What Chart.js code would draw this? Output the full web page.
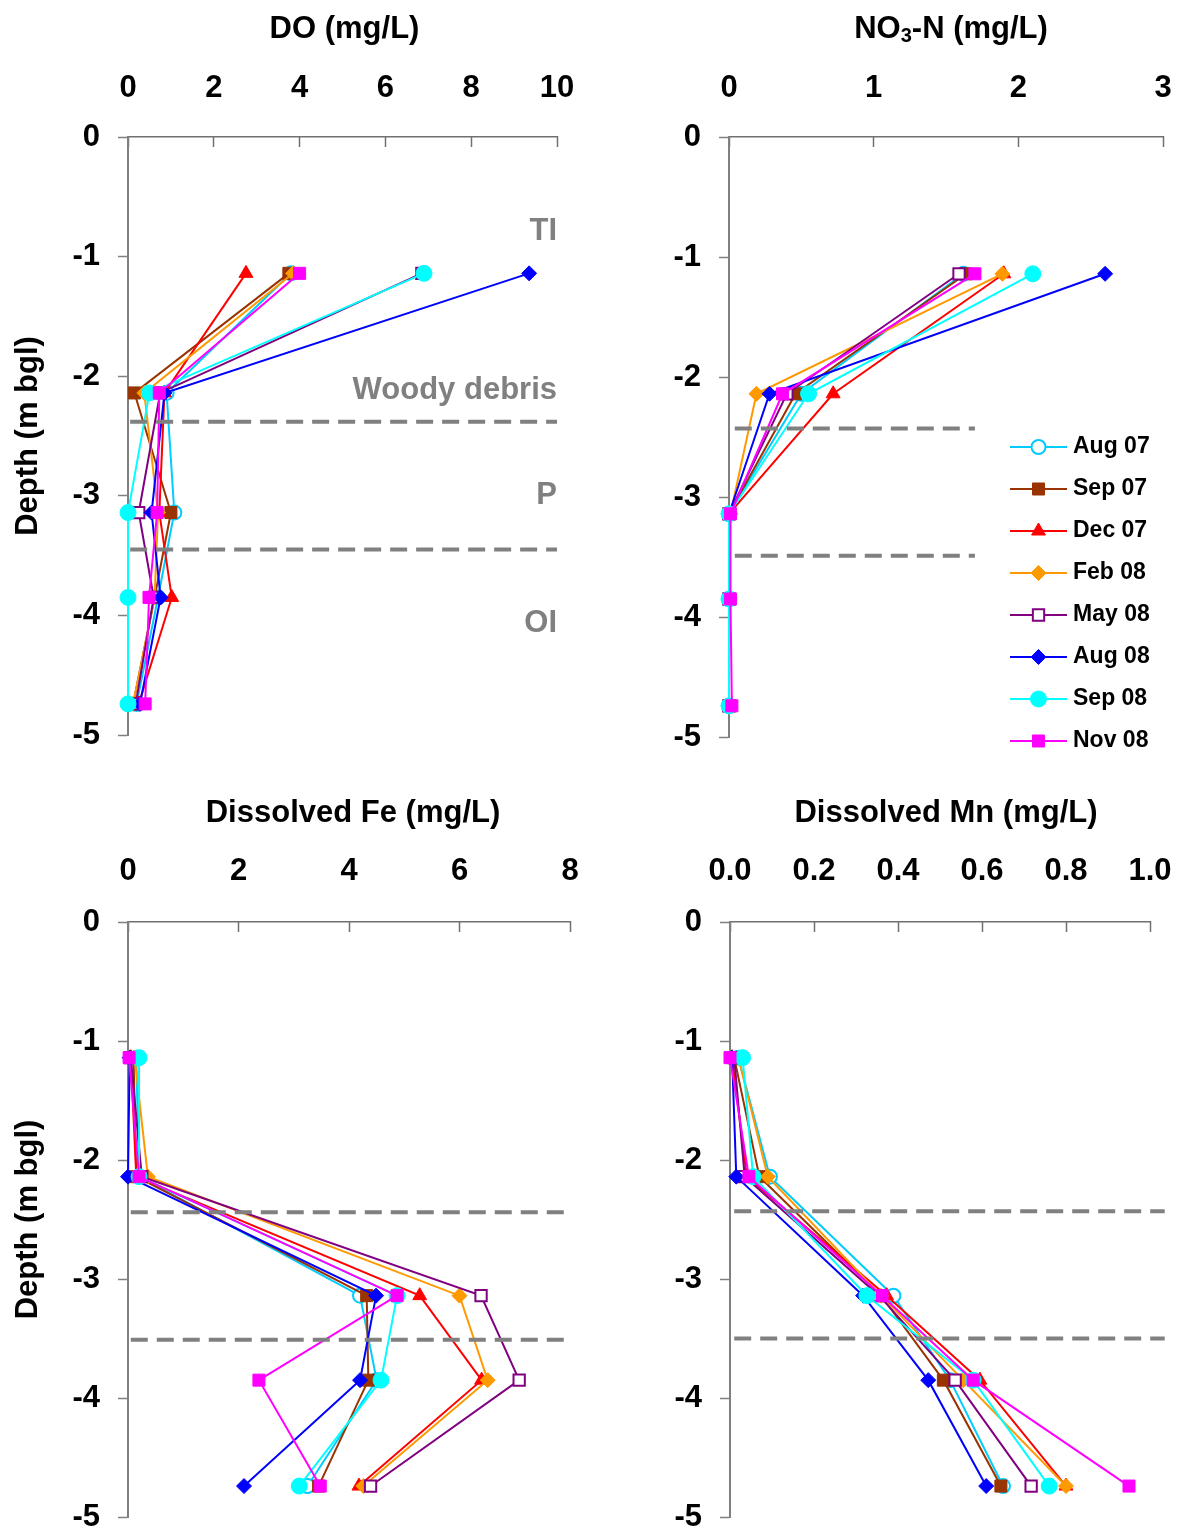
<!DOCTYPE html>
<html>
<head>
<meta charset="utf-8">
<title>Depth profiles</title>
<script src="https://cdn.jsdelivr.net/npm/chart.js@4/dist/chart.umd.min.js"></script>
<style>
  body { margin: 0; background: #fff; }
  #wrap { position: relative; width: 1177px; height: 1528px; overflow: hidden; }
  canvas { position: absolute; }
</style>
</head>
<body>
<div id="wrap">
  <canvas id="doChart" width="600" height="770" style="left:0;top:0"></canvas>
  <canvas id="no3Chart" width="577" height="770" style="left:600px;top:0"></canvas>
  <canvas id="feChart" width="600" height="758" style="left:0;top:770px"></canvas>
  <canvas id="mnChart" width="577" height="758" style="left:600px;top:770px"></canvas>
</div>
<script>
// sampling depths (m bgl), shared by all panels
const depths = [-1.14, -2.14, -3.14, -3.85, -4.74];
const depthTicks = [0, -1, -2, -3, -4, -5];

const seriesNames = ['Aug 07', 'Sep 07', 'Dec 07', 'Feb 08', 'May 08', 'Aug 08', 'Sep 08', 'Nov 08'];

// one row per series (same order as seriesNames), one column per depth
const doValues = [
  [3.8, 0.9, 1.08, 0.7, 0.2],
  [3.75, 0.15, 1.0, 0.62, 0.12],
  [2.75, 0.85, 0.73, 1.02, 0.25],
  [3.85, 0.38, 0.7, 0.62, 0.12],
  [6.85, 0.75, 0.25, 0.6, 0.18],
  [9.35, 0.85, 0.55, 0.76, 0.28],
  [6.9, 0.5, 0.0, 0.0, 0.0],
  [4.0, 0.73, 0.68, 0.49, 0.4]
];
const no3Values = [
  [1.62, 0.5, 0.0, 0.0, 0.0],
  [1.64, 0.46, 0.0, 0.0, 0.0],
  [1.9, 0.72, 0.0, 0.0, 0.0],
  [1.89, 0.19, 0.01, 0.0, 0.0],
  [1.59, 0.4, 0.0, 0.0, 0.0],
  [2.6, 0.28, 0.0, 0.0, 0.0],
  [2.1, 0.55, 0.0, 0.0, 0.0],
  [1.7, 0.37, 0.01, 0.01, 0.02]
];
const feValues = [
  [0.15, 0.2, 4.2, 4.5, 3.25],
  [0.1, 0.15, 4.32, 4.35, 3.45],
  [0.05, 0.15, 5.28, 6.4, 4.18],
  [0.12, 0.36, 6.0, 6.51, 4.26],
  [0.05, 0.25, 6.39, 7.08, 4.39],
  [0.03, 0.0, 4.49, 4.2, 2.1],
  [0.2, 0.2, 4.87, 4.58, 3.1],
  [0.02, 0.2, 4.87, 2.37, 3.48]
];
const mnValues = [
  [0.02, 0.095, 0.389, 0.524, 0.65],
  [0.01, 0.07, 0.36, 0.508, 0.645],
  [0.005, 0.04, 0.373, 0.595, 0.8],
  [0.02, 0.09, 0.36, 0.555, 0.8],
  [0.01, 0.035, 0.355, 0.536, 0.717],
  [0.005, 0.015, 0.317, 0.472, 0.61],
  [0.03, 0.055, 0.326, 0.579, 0.76],
  [0.0, 0.045, 0.362, 0.579, 0.95]
];

const doTicks = [0, 2, 4, 6, 8, 10];
const no3Ticks = [0, 1, 2, 3];
const feTicks = [0, 2, 4, 6, 8];
const mnTicks = [0, 0.2, 0.4, 0.6, 0.8, 1.0];

// layer boundaries (dashed) and layer names
const doBoundaries = [-2.38, -3.45];
const no3Boundaries = [-2.43, -3.49];
const feBoundaries = [-2.44, -3.51];
const mnBoundaries = [-2.43, -3.5];
const zoneLabels = ['TI', 'Woody debris', 'P', 'OI'];
const zoneDepths = [-0.79, -2.12, -3.0, -4.07];

// styling
const FONT = "'Liberation Sans', Arial, sans-serif";
const seriesColors = ['#00CCFF', '#993300', '#FF0000', '#FF9900', '#800080', '#0000FF', '#00FFFF', '#FF00FF'];
const seriesFills = ['#FFFFFF', '#993300', '#FF0000', '#FF9900', '#FFFFFF', '#0000FF', '#00FFFF', '#FF00FF'];
const seriesMarkers = ['circle', 'rect', 'triangle', 'rectRot', 'rect', 'rectRot', 'circle', 'rect'];
const seriesRadius = [7, 8.5, 8, 7.5, 8, 7.5, 8, 8.5];
const seriesBorder = [2, 1, 1, 1, 2, 1, 1, 1];

// draws the panel heading (supports a subscript part)
const panelTitlePlugin = {
  id: 'panelTitle',
  afterDraw(chart, args, opts) {
    if (!opts.parts) return;
    const ctx = chart.ctx;
    const big = 'bold 31px ' + FONT;
    const small = 'bold 20px ' + FONT;
    ctx.save();
    let total = 0;
    opts.parts.forEach(p => {
      ctx.font = p.sub ? small : big;
      total += ctx.measureText(p.text).width;
    });
    let x = (chart.chartArea.left + chart.chartArea.right) / 2 + (opts.shift || 0) - total / 2;
    ctx.fillStyle = '#000';
    ctx.textBaseline = 'middle';
    ctx.textAlign = 'left';
    opts.parts.forEach(p => {
      ctx.font = p.sub ? small : big;
      ctx.fillText(p.text, x, opts.y + (p.sub ? 7 : 0));
      x += ctx.measureText(p.text).width;
    });
    ctx.restore();
  }
};

// gray layer names on the right of the DO panel
const zoneLabelPlugin = {
  id: 'zoneLabels',
  afterDatasetsDraw(chart, args, opts) {
    if (!opts.show) return;
    const ctx = chart.ctx;
    const yScale = chart.scales.y;
    ctx.save();
    ctx.font = 'bold 31px ' + FONT;
    ctx.fillStyle = '#808080';
    ctx.textAlign = 'right';
    ctx.textBaseline = 'middle';
    zoneLabels.forEach((t, i) => {
      ctx.fillText(t, chart.chartArea.right, yScale.getPixelForValue(zoneDepths[i]));
    });
    ctx.restore();
  }
};

// series legend drawn inside the NO3 panel
const seriesLegendPlugin = {
  id: 'seriesLegend',
  afterDraw(chart, args, opts) {
    if (!opts.show) return;
    const ctx = chart.ctx;
    ctx.save();
    seriesNames.forEach((name, i) => {
      const y = opts.top + i * opts.rowGap;
      ctx.strokeStyle = seriesColors[i];
      ctx.lineWidth = 2;
      ctx.beginPath();
      ctx.moveTo(opts.left, y);
      ctx.lineTo(opts.left + opts.lineLen, y);
      ctx.stroke();
      ctx.fillStyle = seriesFills[i];
      ctx.strokeStyle = seriesColors[i];
      ctx.lineWidth = seriesBorder[i];
      Chart.helpers.drawPoint(ctx, {
        pointStyle: seriesMarkers[i],
        radius: seriesRadius[i],
        rotation: 0,
        borderWidth: seriesBorder[i]
      }, opts.left + opts.lineLen / 2, y);
      ctx.fillStyle = '#000';
      ctx.font = 'bold 23px ' + FONT;
      ctx.textAlign = 'left';
      ctx.textBaseline = 'middle';
      ctx.fillText(name, opts.left + opts.lineLen + 6, y);
    });
    ctx.restore();
  }
};

function makePanel(canvasId, p) {
  const datasets = seriesNames.map((name, i) => ({
    label: name,
    data: depths.map((d, k) => ({ x: p.values[i][k], y: d })),
    showLine: true,
    borderColor: seriesColors[i],
    borderWidth: 2,
    pointStyle: seriesMarkers[i],
    pointRadius: seriesRadius[i],
    pointBackgroundColor: seriesFills[i],
    pointBorderColor: seriesColors[i],
    pointBorderWidth: seriesBorder[i],
    order: seriesNames.length - i + 1,
    clip: false
  }));
  p.boundaries.forEach(d => {
    datasets.push({
      label: '',
      data: [{ x: p.dashFrom, y: d }, { x: p.dashTo, y: d }],
      showLine: true,
      borderColor: '#808080',
      borderWidth: 4,
      borderDash: [17, 9],
      pointRadius: 0,
      order: 0,
      clip: false
    });
  });

  return new Chart(document.getElementById(canvasId), {
    type: 'scatter',
    data: { datasets },
    plugins: [panelTitlePlugin, zoneLabelPlugin, seriesLegendPlugin],
    options: {
      responsive: false,
      animation: false,
      events: [],
      layout: { padding: { left: 0, top: 0, right: p.padRight, bottom: p.padBottom } },
      scales: {
        x: {
          type: 'linear',
          position: 'top',
          min: p.ticks[0],
          max: p.ticks[p.ticks.length - 1],
          border: { color: '#707070', width: 1.5 },
          grid: { drawOnChartArea: false, tickLength: -10, tickColor: '#707070', tickWidth: 1.5 },
          ticks: {
            stepSize: p.ticks[1] - p.ticks[0],
            padding: p.xPad,
            color: '#000',
            font: { family: FONT, size: 31, weight: 'bold' },
            callback: p.fmt
          },
          afterFit(scale) {
            scale.height = p.top;
            scale.paddingLeft = 0;
            scale.paddingRight = 0;
          }
        },
        y: {
          type: 'linear',
          min: depthTicks[depthTicks.length - 1],
          max: depthTicks[0],
          border: { color: '#808080', width: 2 },
          grid: { drawOnChartArea: false, tickLength: 10, tickColor: '#808080', tickWidth: 1.5 },
          ticks: {
            stepSize: 1,
            padding: 18,
            color: '#000',
            font: { family: FONT, size: 31, weight: 'bold' }
          },
          title: {
            display: p.yTitle,
            text: 'Depth (m bgl)',
            color: '#000',
            padding: { top: 10, bottom: 0 },
            font: { family: FONT, size: 31, weight: 'bold' }
          },
          afterFit(scale) {
            scale.width = p.left;
            scale.paddingTop = 0;
            scale.paddingBottom = 0;
          }
        }
      },
      plugins: {
        legend: { display: false },
        tooltip: { enabled: false },
        panelTitle: { parts: p.title, y: p.titleY, shift: p.titleShift },
        zoneLabels: { show: !!p.zones },
        seriesLegend: p.legend || { show: false }
      }
    }
  });
}

makePanel('doChart', {
  values: doValues, ticks: doTicks, boundaries: doBoundaries, dashFrom: 0.05, dashTo: 10,
  title: [{ text: 'DO (mg/L)' }], titleY: 29, titleShift: 2,
  left: 128, top: 137, padRight: 43, padBottom: 35, xPad: 40, yTitle: true, zones: true,
  fmt: v => v
});

makePanel('no3Chart', {
  values: no3Values, ticks: no3Ticks, boundaries: no3Boundaries, dashFrom: 0.04, dashTo: 1.7,
  title: [{ text: 'NO' }, { text: '3', sub: true }, { text: '-N (mg/L)' }], titleY: 29, titleShift: 5,
  left: 129, top: 137, padRight: 14, padBottom: 33, xPad: 40, yTitle: false,
  fmt: v => v,
  legend: { show: true, left: 410, top: 447, rowGap: 42, lineLen: 57 }
});

makePanel('feChart', {
  values: feValues, ticks: feTicks, boundaries: feBoundaries, dashFrom: 0.05, dashTo: 7.95,
  title: [{ text: 'Dissolved Fe (mg/L)' }], titleY: 43, titleShift: 4,
  left: 128, top: 152, padRight: 30, padBottom: 11, xPad: 42, yTitle: true,
  fmt: v => v
});

makePanel('mnChart', {
  values: mnValues, ticks: mnTicks, boundaries: mnBoundaries, dashFrom: 0.01, dashTo: 1.035,
  title: [{ text: 'Dissolved Mn (mg/L)' }], titleY: 43, titleShift: 6,
  left: 130, top: 152, padRight: 27, padBottom: 11, xPad: 42, yTitle: false,
  fmt: v => v.toFixed(1)
});
</script>
</body>
</html>
